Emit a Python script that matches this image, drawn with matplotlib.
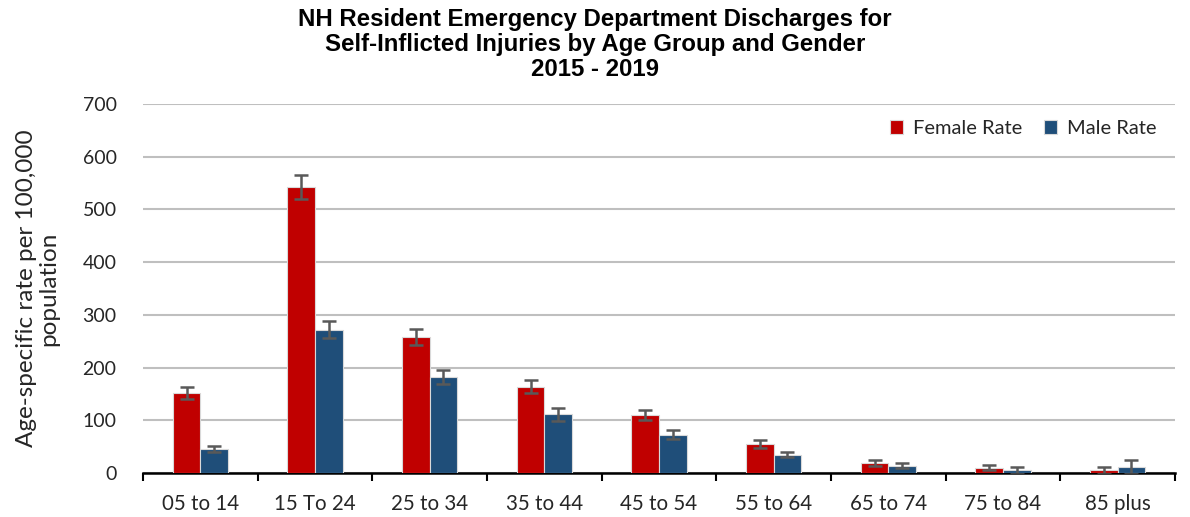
import matplotlib
matplotlib.use("Agg")
import matplotlib.pyplot as plt
import numpy as np

categories = ["05 to 14", "15 To 24", "25 to 34", "35 to 44", "45 to 54",
              "55 to 64", "65 to 74", "75 to 84", "85 plus"]
female_rate = [152, 543, 258, 164, 110, 55, 19, 10, 5]
female_err = [12, 23, 16, 13, 10, 7, 6, 5, 7]
male_rate = [46, 272, 182, 111, 73, 35, 14, 5, 12]
male_err = [6, 16, 13, 12, 8, 5, 5, 6, 13]
y_ticks = [0, 100, 200, 300, 400, 500, 600, 700]

female_color = "#C00000"
male_color = "#1F4E79"
err_color = "#595959"
text_color = "#262626"
font = ["Lato", "DejaVu Sans"]

fig = plt.figure(figsize=(11.9, 5.17), dpi=100)
ax = fig.add_axes([143/1190, 1 - 473/517, (1175-143)/1190, (473-104)/517])

x = np.arange(len(categories))
w = 0.24
ax.bar(x - w/2, female_rate, w, color=female_color, edgecolor="#d9d9d9", linewidth=0.8,
       label="Female Rate", zorder=3)
ax.bar(x + w/2, male_rate, w, color=male_color, edgecolor="#d9d9d9", linewidth=0.8,
       label="Male Rate", zorder=3)
ax.errorbar(x - w/2, female_rate, yerr=female_err, fmt="none", ecolor=err_color,
            elinewidth=1.8, capsize=5, capthick=1.8, zorder=4)
ax.errorbar(x + w/2, male_rate, yerr=male_err, fmt="none", ecolor=err_color,
            elinewidth=1.8, capsize=5, capthick=1.8, zorder=4)

ax.set_xlim(-0.5, len(categories) - 0.5)
ax.set_ylim(0, 700)
ax.set_yticks(y_ticks)
ax.set_yticklabels([str(v) for v in y_ticks], fontsize=14, family=font, color=text_color)
ax.yaxis.grid(True, color="#bfbfbf", linewidth=1.5, zorder=0)
ax.set_axisbelow(True)
ax.tick_params(axis="y", length=0, pad=19)

ax.set_xticks(x)
ax.set_xticklabels(categories, fontsize=14.8, family=font, color=text_color)
ax.tick_params(axis="x", length=0, pad=15)
ax.set_xticks(np.arange(-0.5, len(categories)), minor=True)
ax.tick_params(axis="x", which="minor", length=6, width=1.5, color="black", direction="out")

for s in ["top", "right", "left"]:
    ax.spines[s].set_visible(False)
ax.spines["bottom"].set_linewidth(1.8)
ax.spines["bottom"].set_color("black")

ax.set_ylabel("Age-specific rate per 100,000\npopulation", fontsize=17.5, family=font,
              labelpad=17, linespacing=1.05, color=text_color)

leg = ax.legend(loc="upper right", bbox_to_anchor=(1.0, 1.005), frameon=False, ncol=2,
                prop={"family": font, "size": 14.5}, handlelength=0.65, handleheight=0.65,
                columnspacing=1.1, handletextpad=0.5)
for t in leg.get_texts():
    t.set_color(text_color)

fig.text(0.5, 0.985, "NH Resident Emergency Department Discharges for\n"
         "Self-Inflicted Injuries by Age Group and Gender\n2015 - 2019",
         ha="center", va="top", fontsize=17.3, fontweight="bold",
         family=["Liberation Sans", "DejaVu Sans"], linespacing=1.12)

fig.savefig("out.png", dpi=100)
